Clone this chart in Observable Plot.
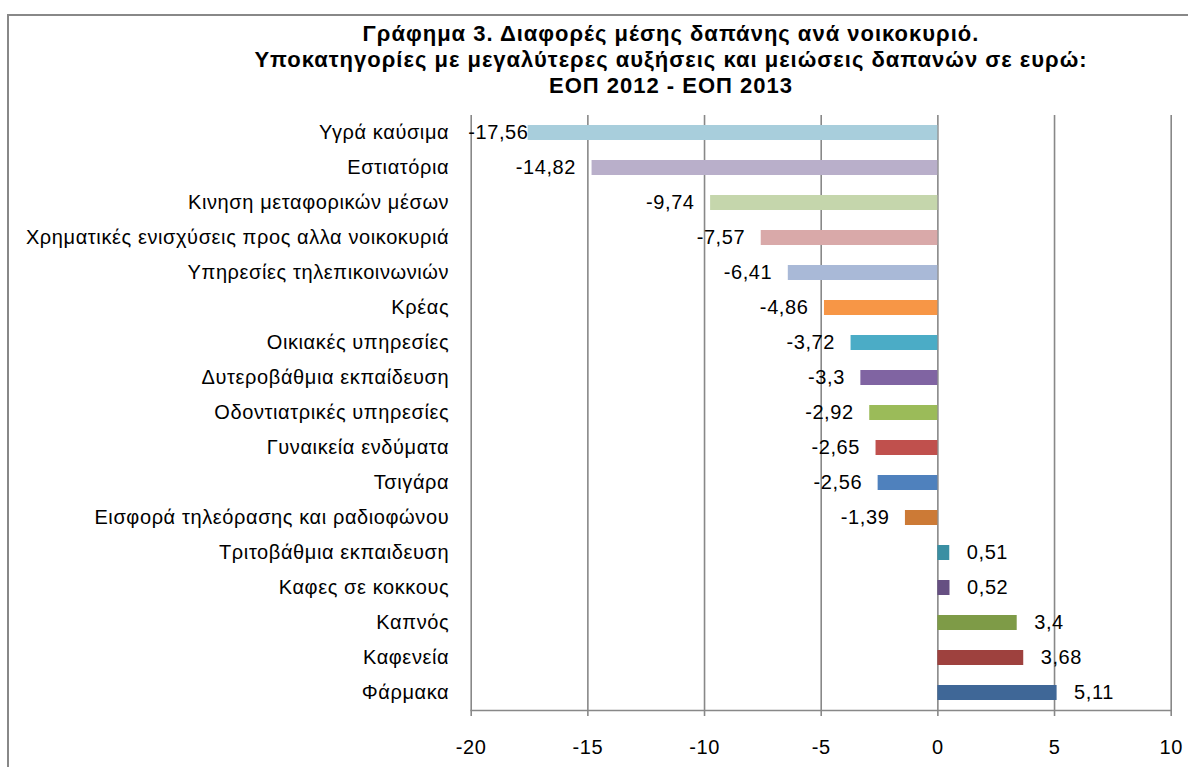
<!DOCTYPE html>
<html>
<head>
<meta charset="utf-8">
<script src="https://cdn.jsdelivr.net/npm/d3@7"></script>
<script src="https://cdn.jsdelivr.net/npm/@observablehq/plot@0.6"></script>
<style>
  html, body { margin: 0; padding: 0; background: #fff; overflow: hidden; }
  body { width: 1188px; height: 767px; position: relative; font-family: "Liberation Sans", Arial, sans-serif; }
  #frame { position: absolute; left: 7px; top: 14px; width: 1300px; height: 900px; border-left: 2px solid #888; border-top: 2px solid #888; box-sizing: border-box; pointer-events: none; }
  #title { position: relative; padding-top: 21px; padding-left: 154px; text-align: center; font-weight: bold; font-size: 22px; letter-spacing: 1px; line-height: 26px; color: #000; height: 77px; white-space: nowrap; }
  #chart { position: relative; }
  #chart svg text { letter-spacing: 0.6px; }
</style>
</head>
<body>
<div id="frame"></div>
<div id="title">Γράφημα 3. Διαφορές μέσης δαπάνης ανά νοικοκυριό.<br>Υποκατηγορίες με μεγαλύτερες αυξήσεις και μειώσεις δαπανών σε ευρώ:<br>ΕΟΠ 2012 - ΕΟΠ 2013</div>
<div id="chart"></div>
<script>
const categories = [
  "Υγρά καύσιμα",
  "Εστιατόρια",
  "Κινηση μεταφορικών μέσων",
  "Χρηματικές ενισχύσεις προς αλλα νοικοκυριά",
  "Υπηρεσίες τηλεπικοινωνιών",
  "Κρέας",
  "Οικιακές υπηρεσίες",
  "Δυτεροβάθμια εκπαίδευση",
  "Οδοντιατρικές υπηρεσίες",
  "Γυναικεία ενδύματα",
  "Τσιγάρα",
  "Εισφορά τηλεόρασης και ραδιοφώνου",
  "Τριτοβάθμια εκπαιδευση",
  "Καφες σε κοκκους",
  "Καπνός",
  "Καφενεία",
  "Φάρμακα"
];
const values = [-17.56, -14.82, -9.74, -7.57, -6.41, -4.86, -3.72, -3.3, -2.92, -2.65, -2.56, -1.39, 0.51, 0.52, 3.4, 3.68, 5.11];
const colors = [
  "#A8CEDC", "#B9AFCA", "#C5D6AC", "#D9A9A9", "#A9B9D7",
  "#F79646", "#4BACC6", "#8064A2", "#9BBB59", "#C0504D", "#4F81BD",
  "#CC7A36", "#3A8FA3", "#664F82", "#7E9B47", "#9E413E", "#3F6797"
];
const xTicks = [-20, -15, -10, -5, 0, 5, 10];
const xDomain = [-20, 10];

const data = categories.map((c, i) => ({category: c, value: values[i], color: colors[i]}));
const fmt = v => String(v).replace(".", ",");
const clampLimit = -16;

const gray = "#888";
const chart = Plot.plot({
  width: 1188,
  height: 670,
  marginLeft: 470.7,
  marginRight: 17.3,
  marginTop: 17,
  marginBottom: 58,
  style: {fontFamily: '"Liberation Sans", Arial, sans-serif', fontSize: "20px", color: "#000", background: "transparent", overflow: "visible"},
  x: {domain: xDomain},
  y: {domain: categories, padding: 0},
  color: {type: "identity"},
  marks: [
    Plot.gridX(xTicks, {stroke: gray, strokeOpacity: 1, strokeWidth: 1.6}),
    Plot.barX(data, {x: "value", y: "category", fill: "color", insetTop: 10, insetBottom: 10}),
    Plot.frame({anchor: "bottom", stroke: gray, strokeWidth: 1.6}),
    Plot.axisX({ticks: xTicks, tickFormat: d => String(d), tickSize: 6, tickPadding: 23, stroke: gray, strokeWidth: 1.6, fill: "#000", fontSize: 20, label: null}),
    Plot.axisY({tickSize: 0, tickPadding: 22, fill: "#000", fontSize: 20, label: null}),
    Plot.text(data.filter(d => d.value < 0 && d.value > clampLimit), {x: "value", y: "category", text: d => fmt(d.value), textAnchor: "end", dx: -16, fill: "#000", fontSize: 20}),
    Plot.text(data.filter(d => d.value <= clampLimit), {x: () => xDomain[0], y: "category", text: d => fmt(d.value), textAnchor: "start", dx: -3, fill: "#000", fontSize: 20}),
    Plot.text(data.filter(d => d.value >= 0), {x: "value", y: "category", text: d => fmt(d.value), textAnchor: "start", dx: 17, fill: "#000", fontSize: 20})
  ]
});
document.getElementById("chart").appendChild(chart);
</script>
</body>
</html>
